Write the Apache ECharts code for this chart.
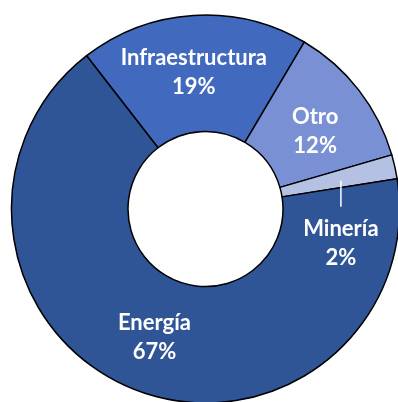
<!DOCTYPE html>
<html>
<head>
<meta charset="utf-8">
<script src="https://cdn.jsdelivr.net/npm/echarts@6/dist/echarts.min.js"></script>
<style>
html,body{margin:0;padding:0;background:#fff;}
#chart{width:398px;height:402px;}
</style>
</head>
<body>
<div id="chart"></div>
<script>
var categories = ['Infraestructura', 'Otro', 'Minería', 'Energía'];
var values = [19, 12, 2, 67];
var colors = ['#4169BE', '#7A90D4', '#B4C1E3', '#2F5597'];

var chart = echarts.init(document.getElementById('chart'), null, {renderer: 'canvas'});

var data = categories.map(function (c, i) {
  var d = {name: c, value: values[i], itemStyle: {color: colors[i]}};
  if (c === 'Minería') {
    d.label = {
      formatter: '{line|}\n{gap|}\n{t|{b}}\n{t|{d}%}'
    };
  }
  return d;
});

chart.setOption({
  animation: false,
  series: [{
    type: 'pie',
    center: [205.5, 209],
    radius: [77.5, 194],
    startAngle: 127.8,
    clockwise: true,
    avoidLabelOverlap: false,
    itemStyle: {borderColor: '#000', borderWidth: 1.5},
    label: {
      show: true,
      position: 'inside',
      formatter: '{t|{b}}\n{t|{d}%}',
      rich: {
        t: {color: '#fff', fontFamily: 'Lato', fontWeight: 'bold', fontSize: 22, lineHeight: 29, align: 'center'},
        line: {width: 1.5, height: 26, backgroundColor: '#fff', align: 'center'},
        gap: {height: 8, lineHeight: 8}
      }
    },
    labelLine: {show: false},
    labelLayout: function (p) {
      if (p.dataIndex === 2) return {dy: 48};
      if (p.dataIndex === 3) return {dx: 0, dy: -1};
      if (p.dataIndex === 1) return {dx: 0, dy: 7};
      if (p.dataIndex === 0) return {dx: -3, dy: 2};
      return {};
    },
    data: data
  }]
});
</script>
</body>
</html>
